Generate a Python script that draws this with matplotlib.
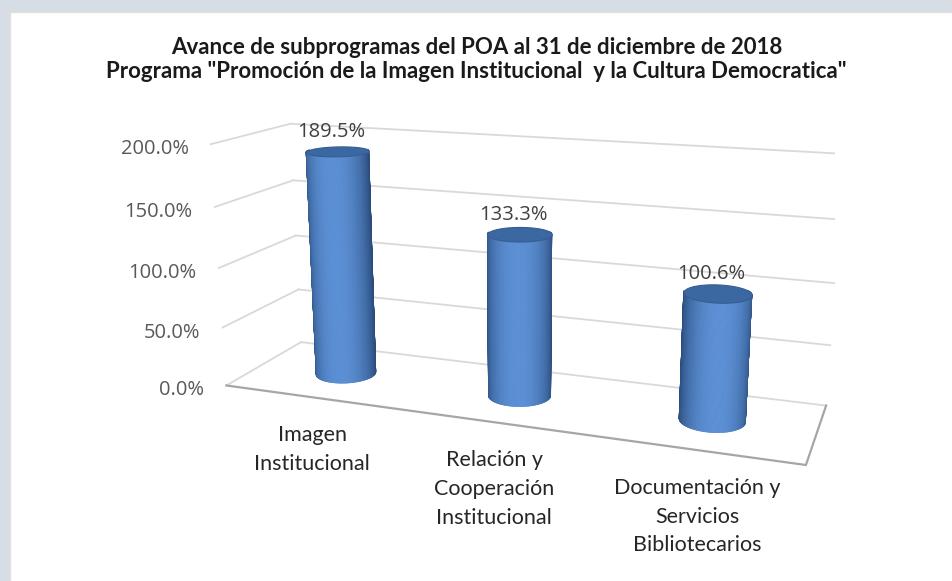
import numpy as np
import matplotlib
matplotlib.use("Agg")
import matplotlib.pyplot as plt
from matplotlib.patches import Rectangle
from matplotlib.colors import to_rgb
from mpl_toolkits.mplot3d import proj3d
from mpl_toolkits.mplot3d.art3d import Poly3DCollection

titulo_1 = "Avance de subprogramas del POA al 31 de diciembre de 2018"
titulo_2 = 'Programa "Promoción de la Imagen Institucional  y la Cultura Democratica"'
subprogramas = ["Imagen\nInstitucional",
                "Relación y\nCooperación\nInstitucional",
                "Documentación y\nServicios\nBibliotecarios"]
avance = [189.5, 133.3, 100.6]
ticks = [0, 50, 100, 150, 200]

W, H = 953, 581
fig = plt.figure(figsize=(W / 100, H / 100), dpi=100)
fig.patch.set_facecolor("#d6dde5")
fig.patches.append(Rectangle((10 / W, -0.01), 1, 1 - 12 / H + 0.01, transform=fig.transFigure,
                             facecolor="white", edgecolor="#e4dfdf", lw=1, zorder=-1))

fig.text(0.5, 1 - 47 / H, titulo_1, ha="center", va="center", fontsize=16,
         fontweight="bold", family="Lato", color="#1a1a1a")
fig.text(0.5, 1 - 72 / H, titulo_2, ha="center", va="center", fontsize=16,
         fontweight="bold", family="Lato", color="#1a1a1a")

# 3d axes, view like excel (x rot 20, y rot 15, perspective)
aspect = (5.0, 1.3, 2.13)
azim = -70
n = len(avance)
ax = fig.add_axes([0.1, 0.05, 0.8, 0.8], projection="3d", computed_zorder=False)
ax.set_proj_type("persp", focal_length=0.35)
ax.view_init(elev=15, azim=azim)
ax.set_box_aspect(aspect)
ax.set_axis_off()
ax.patch.set_alpha(0)

# gridlines on back and left wall, floor edges
for t in ticks:
    ax.plot([0, n], [1, 1], [t, t], color="#d9d9d9", lw=1.3, zorder=1)
    ax.plot([0, 0], [0, 1], [t, t], color="#d9d9d9", lw=1.3, zorder=1)
ax.plot([0, n, n], [0, 0, 1], [0, 0, 0], color="#a6a6a6", lw=1.6, zorder=1)

# cylinders, only the side facing the camera
r = 0.16
ry = r * (aspect[0] / n) / aspect[1]
theta = np.linspace(0, 2 * np.pi, 241)
tm = (theta[:-1] + theta[1:]) / 2
front = np.cos(tm - np.deg2rad(azim)) > -0.3
light = np.deg2rad(-73)
dark = np.array(to_rgb("#2a4c7c"))
bright = np.array(to_rgb("#5b8fd4"))
shade = np.clip(np.cos(tm - light), 0, 1) ** 1.2
cols = (dark + shade[:, None] * (bright - dark))[front]
for i, v in enumerate(avance):
    xc, yc = i + 0.5, 0.5
    xs = xc + r * np.cos(theta)
    ys = yc + ry * np.sin(theta)
    quads = [[(xs[k], ys[k], 0), (xs[k + 1], ys[k + 1], 0),
              (xs[k + 1], ys[k + 1], v), (xs[k], ys[k], v)]
             for k in range(len(tm)) if front[k]]
    ax.add_collection3d(Poly3DCollection(quads, facecolors=cols, edgecolors=cols,
                                         linewidths=0.5, zorder=3))
    top = [list(zip(xs, ys, np.full_like(xs, v)))]
    ax.add_collection3d(Poly3DCollection(top, facecolors="#3c68a2", edgecolors="#355d93",
                                         linewidths=0.8, zorder=4))

ax.set_xlim(0, n)
ax.set_ylim(0, 1)
ax.set_zlim(0, ticks[-1])


def to_px(x, y, z):
    xs, ys, _ = proj3d.proj_transform(x, y, z, ax.M)
    return ax.transData.transform((float(xs), float(ys)))


# place the 3d box so its corners sit where the excel chart has them
fig.canvas.draw()
corners = [(0, 0, 0), (0, 1, 0), (n, 1, 0), (n, 0, 0), (0, 0, 200), (0, 1, 200), (n, 1, 200)]
targets = [(225, 386), (300, 345), (828, 405), (805, 462), (210, 145), (293, 123), (843, 154)]
P = np.array([to_px(*c) for c in corners])
Q = np.array([(x, H - y) for x, y in targets], dtype=float)
pm, qm = P.mean(0), Q.mean(0)
s = ((P - pm) * (Q - qm)).sum() / ((P - pm) ** 2).sum()
off = qm - s * pm
bb = ax.get_position()
ax.set_position([(s * bb.x0 * W + off[0]) / W, (s * bb.y0 * H + off[1]) / H,
                 s * bb.width, s * bb.height])
fig.canvas.draw()


def label_at(x, y, z, dx, dy):
    p = to_px(x, y, z)
    return (p[0] + dx) / W, (p[1] + dy) / H


for t in ticks:
    fig.text(*label_at(0, 0, t, -22, -5), f"{t:.1f}%", ha="right", va="center",
             fontsize=14.5, family="Open Sans", color="#595959")
for i, v in enumerate(avance):
    fig.text(*label_at(i + 0.5, 0.5, v, -6, 19), f"{v:.1f}%", ha="center", va="center",
             fontsize=14.5, family="Open Sans", color="#404040")
for i, lab in enumerate(subprogramas):
    fig.text(*label_at(i + 0.5, 0, 0, 2, -28), lab, ha="center", va="top",
             fontsize=15.5, family="Lato", color="#262626", linespacing=1.55)

fig.savefig("out.png", dpi=100, facecolor=fig.get_facecolor())
